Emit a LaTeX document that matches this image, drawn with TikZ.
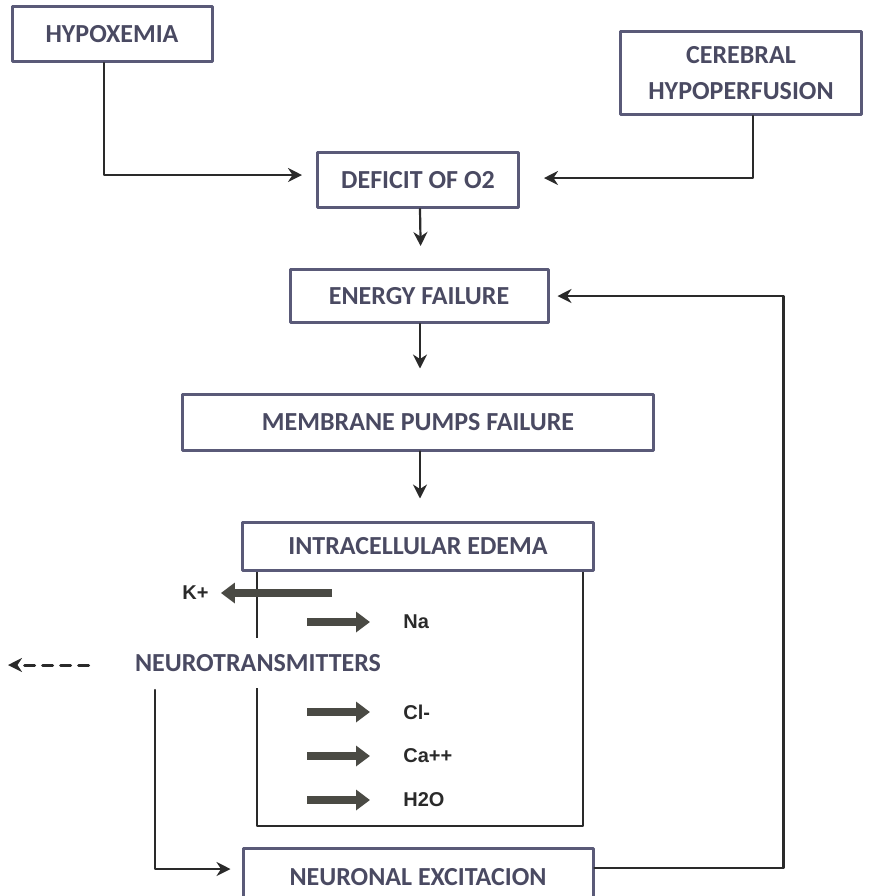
\documentclass[tikz,border=0pt]{standalone}
\usepackage{fontspec}
\newfontfamily\boxfont{Carlito}
\newfontfamily\scanfont{Liberation Sans}
\usetikzlibrary{arrows.meta}
\definecolor{boxline}{HTML}{5A5A78}
\definecolor{boxtext}{HTML}{4A4A62}
\definecolor{scanink}{HTML}{2A2A2A}
\definecolor{ionfill}{HTML}{4A4A44}

\begin{document}
\begin{tikzpicture}[x = 0.5pt, y = -0.5pt, line cap = round, line join = round,
  box/.style = {draw = boxline, line width = 1.5pt, fill = white, text = boxtext,
    font = \boxfont\bfseries\fontsize{13}{18}\selectfont, align = center,
    inner sep = 0},
  flow/.style = {draw = scanink, line width = 1.1pt,
    -{Stealth[length = 7pt, width = 7pt]}},
  ion/.style = {font = \scanfont\bfseries\fontsize{10}{12}\selectfont,
    text = scanink, anchor = west, inner sep = 0},
  ionarrow/.style = {draw = ionfill, line width = 4pt, line cap = butt,
    -{Triangle[length = 7pt, width = 10pt]}}]

  \useasboundingbox (0, 0) rectangle (872, 896);

  % scanned ion box
  \draw[scanink, line width = 1pt] (257, 570) rectangle (583, 826);

  % boxes
  \node[box, minimum width = 100pt, minimum height = 27.5pt] (hypox) at (112, 34)
  {HYPOXEMIA};
  \node[box, minimum width = 120.5pt, minimum height = 41.5pt] (cereb) at (741, 73)
  {CEREBRAL\\HYPOPERFUSION};
  \node[box, minimum width = 100.5pt, minimum height = 27.5pt] (deficit) at (418, 180)
  {DEFICIT OF O2};
  \node[box, minimum width = 129pt, minimum height = 26.5pt] (energy) at (419, 296)
  {ENERGY FAILURE};
  \node[box, minimum width = 235.5pt, minimum height = 28pt] (membrane) at (418, 422)
  {MEMBRANE PUMPS FAILURE};
  \node[box, minimum width = 175.5pt, minimum height = 24pt] (edema) at (418, 546)
  {INTRACELLULAR EDEMA};
  \node[box, minimum width = 175pt, minimum height = 29pt] (neuronal) at (418, 877)
  {NEURONAL EXCITACION};
  \node[box, draw = none, minimum height = 25pt] (nt) at (258, 663)
  {NEUROTRANSMITTERS};

  % ions
  \node[ion] (kion) at (182, 593) {K+};
  \coordinate (kstart) at (332, 593);
  \draw[ionarrow, shorten > = 6pt] (kstart) -- (kion.east);
  \foreach \name/\label/\y in {na/Na/622, cl/Cl-/712, ca/Ca++/756, water/H2O/800} {
    \node[ion] (\name) at (403, \y) {\label};
    \coordinate (\name start) at (307, \y);
    \draw[ionarrow, shorten > = 16.5pt] (\name start) -- (\name.west);
  }

  % connectors
  \draw[flow, shorten > = 7pt] ([xshift = -4pt]hypox.south) |- ([yshift = 2.5pt]deficit.west);
  \draw[flow, shorten > = 12pt] ([xshift = 6pt]cereb.south) |- ([yshift = 1pt]deficit.east);
  \draw[flow, shorten > = 11pt] ([xshift = 1pt]deficit.south) -- ([xshift = 1pt]energy.north);
  \draw[flow, shorten > = 12pt] ([xshift = 0.5pt]energy.south) -- ([xshift = 1pt]membrane.north);
  \draw[flow, shorten > = 11pt] ([xshift = 1pt]membrane.south) -- ([xshift = 1pt]edema.north);
  \draw[flow, shorten > = 4pt] ([yshift = 4.5pt]neuronal.east) -- ++(189, 0) |- (energy.east);

  \coordinate (ntloop) at (155, 690);
  \draw[flow, shorten > = 5.5pt] (ntloop) |- ([yshift = 4pt]neuronal.west);
  \coordinate (ntout) at (8, 665);
  \draw[flow, line width = 1.5pt, dash pattern = on 5pt off 4pt, shorten < = 22.5pt]
  ([yshift = -1pt]nt.west) -- (ntout);
\end{tikzpicture}
\end{document}
